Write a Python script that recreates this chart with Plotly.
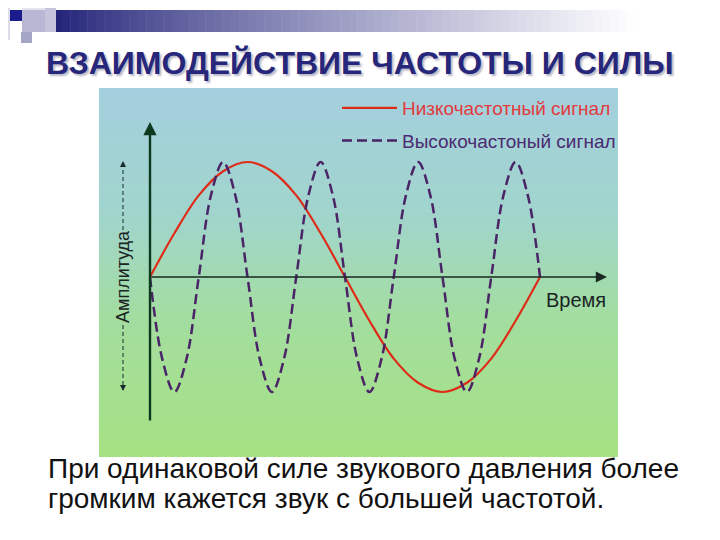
import plotly.graph_objects as go

# ---------------- data ----------------
# low-frequency signal: one period over the time span
low_time = [0, 0.0625, 0.125, 0.1875, 0.25, 0.3125, 0.375, 0.4375, 0.5,
            0.5625, 0.625, 0.6875, 0.75, 0.8125, 0.875, 0.9375, 1.0]
low_amp = [0, 0.38, 0.71, 0.92, 1.0, 0.92, 0.71, 0.38, 0,
           -0.38, -0.71, -0.92, -1.0, -0.92, -0.71, -0.38, 0]

# high-frequency signal: four periods, starting downward
high_time = [0, 0.03125, 0.0625, 0.09375, 0.125, 0.15625, 0.1875, 0.21875,
             0.25, 0.28125, 0.3125, 0.34375, 0.375, 0.40625, 0.4375, 0.46875,
             0.5, 0.53125, 0.5625, 0.59375, 0.625, 0.65625, 0.6875, 0.71875,
             0.75, 0.78125, 0.8125, 0.84375, 0.875, 0.90625, 0.9375, 0.96875, 1.0]
high_amp = [0, -0.71, -1, -0.71, 0, 0.71, 1, 0.71,
            0, -0.71, -1, -0.71, 0, 0.71, 1, 0.71,
            0, -0.71, -1, -0.71, 0, 0.71, 1, 0.71,
            0, -0.71, -1, -0.71, 0, 0.71, 1, 0.71, 0]

low_name = "Низкочастотный сигнал"
high_name = "Высокочастоный сигнал"
title_text = "ВЗАИМОДЕЙСТВИЕ ЧАСТОТЫ И СИЛЫ"
x_label = "Время"
y_label = "Амплитуда"
caption_lines = ["При одинаковой силе звукового давления более",
                 "громким кажется звук с большей частотой."]

# ---------------- layout geometry (window pixels) ----------------
OFF = 8                                    # default page body margin
WIN_W, WIN_H = 720, 540
W, H = WIN_W - OFF, WIN_H - OFF
PL, PR, PT, PB = 99, 618, 88, 457          # panel box
X0_PX, PX_PER_T = 150, 390                 # t=0 position, px per unit time
Y0_PX, PX_PER_A = 277, 115                 # zero amplitude position, px per unit


def t_of(px):
    return (px - X0_PX) / PX_PER_T


def a_of(py):
    return (Y0_PX - py) / PX_PER_A


def xp(px):
    return (px - PL) / (PR - PL)


def yp(py):
    return (PB - py) / (PB - PT)


RED = "#de2c18"
PURPLE = "#4a2466"
FONT = "Liberation Sans, Arial, sans-serif"

fig = go.Figure()
fig.add_trace(go.Scatter(
    x=low_time, y=low_amp, mode="lines", line_shape="spline",
    line=dict(color=RED, width=2.2),
    name=f"<span style='color:#e23a40'>{low_name}</span>",
    legendgroup="a"))
fig.add_trace(go.Scatter(
    x=high_time, y=high_amp, mode="lines", line_shape="spline",
    line=dict(color=PURPLE, width=2.5, dash="10px,5px"),
    name=f"<span style='color:#4a2a70'>{high_name}</span>",
    legendgroup="b"))

shapes = []
# panel gradient background (blue top -> green bottom)
stops = [(0.0, (164, 207, 222)), (0.35, (161, 213, 204)),
         (0.62, (163, 221, 160)), (1.0, (166, 226, 131))]


def grad(f):
    for (f0, c0), (f1, c1) in zip(stops[:-1], stops[1:]):
        if f0 <= f <= f1:
            u = (f - f0) / (f1 - f0)
            return tuple(round(c0[i] + (c1[i] - c0[i]) * u) for i in range(3))
    return stops[-1][1]


NB = 92
for i in range(NB):
    y_top = 1 - i / NB
    y_bot = 1 - (i + 1) / NB
    c = grad((i + 0.5) / NB)
    shapes.append(dict(type="rect", xref="paper", yref="paper", layer="below",
                       x0=0, x1=1, y0=max(0, y_bot - 0.002), y1=y_top,
                       fillcolor=f"rgb{c}", line_width=0))

# decorative header bar (navy -> white)
BAR_L, BAR_R, BAR_T, BAR_B = 45, 720, 10, 32
NBAR = 80
for i in range(NBAR):
    f = i / NBAR
    x0 = BAR_L + (BAR_R - BAR_L) * f
    x1 = BAR_L + (BAR_R - BAR_L) * (i + 1) / NBAR + 0.5
    g = min(1.0, f * 1.15) ** 0.8
    c0 = (28, 28, 118)
    c = tuple(round(c0[k] + (255 - c0[k]) * g) for k in range(3))
    shapes.append(dict(type="rect", xref="paper", yref="paper", layer="above",
                       x0=xp(x0), x1=xp(x1), y0=yp(BAR_B), y1=yp(BAR_T),
                       fillcolor=f"rgb{c}", line_width=0))

for (x0, y0, x1, y1, col) in [(8, 0, 10, 40, "#dcdcea"),
                              (22, 8, 45, 10, "#e4e4f0"),
                              (45, 8, 56, 32, "#c4c4dc"),
                              (22, 10, 45, 32, "#b8b8d4"),
                              (10, 10, 22, 21, "#1c1c8c"),
                              (21, 32, 32, 43, "#a4a4c4")]:
    shapes.append(dict(type="rect", xref="paper", yref="paper", layer="above",
                       x0=xp(x0), x1=xp(x1), y0=yp(y1), y1=yp(y0),
                       fillcolor=col, line_width=0))

# amplitude dashed indicator lines
tA = t_of(123)
for (ya, yb) in [(163, 230), (325, 389)]:
    shapes.append(dict(type="line", xref="x", yref="y", x0=tA, x1=tA,
                       y0=a_of(ya), y1=a_of(yb),
                       line=dict(color="#1a2a2a", width=1, dash="4px,3px")))

annotations = []
# vertical axis with arrow
annotations.append(dict(x=0, y=a_of(122), ax=0, ay=a_of(422), xref="x", yref="y",
                        axref="x", ayref="y", text="", showarrow=True,
                        arrowhead=2, arrowsize=1.1, arrowwidth=2.4,
                        arrowcolor="#0c3a1e"))
# horizontal axis with arrow
annotations.append(dict(x=t_of(607), y=0, ax=0, ay=0, xref="x", yref="y",
                        axref="x", ayref="y", text="", showarrow=True,
                        arrowhead=2, arrowsize=1.6, arrowwidth=1.4,
                        arrowcolor="#1a2a22"))
# amplitude arrowheads
annotations.append(dict(x=tA, y=a_of(161), ax=0, ay=6, xref="x", yref="y",
                        text="", showarrow=True, arrowhead=2, arrowsize=1.2,
                        arrowwidth=1, arrowcolor="#1a2a2a"))
annotations.append(dict(x=tA, y=a_of(391), ax=0, ay=-6, xref="x", yref="y",
                        text="", showarrow=True, arrowhead=2, arrowsize=1.2,
                        arrowwidth=1, arrowcolor="#1a2a2a"))
# axis labels
annotations.append(dict(x=tA, y=a_of(277), xref="x", yref="y", text=y_label,
                        showarrow=False, textangle=-90,
                        xanchor="center", yanchor="middle",
                        font=dict(family=FONT, size=18, color="#1a2424")))
annotations.append(dict(x=t_of(608), y=a_of(300), xref="x", yref="y", text=x_label,
                        showarrow=False, xanchor="right", yanchor="middle",
                        font=dict(family=FONT, size=20, color="#1a2424")))
# title
annotations.append(dict(x=xp(360), y=yp(63), xref="paper", yref="paper",
                        text=f"<b>{title_text}</b>", showarrow=False,
                        xanchor="center", yanchor="middle",
                        font=dict(family=FONT, size=32, color="#26267a",
                                  shadow="2px 2px 2px #b8b8c8")))
# caption
for i, line in enumerate(caption_lines):
    annotations.append(dict(x=xp(46), y=yp(468 + 30 * i), xref="paper", yref="paper",
                            text=line, showarrow=False,
                            xanchor="left", yanchor="middle",
                            font=dict(family=FONT, size=28, color="#111111")))

fig.update_layout(
    width=W, height=H,
    margin=dict(l=PL - OFF, r=WIN_W - PR, t=PT - OFF, b=WIN_H - PB, pad=0),
    paper_bgcolor="white", plot_bgcolor="rgba(0,0,0,0)",
    xaxis=dict(range=[t_of(PL), t_of(PR)], visible=False, fixedrange=True),
    yaxis=dict(range=[a_of(PB), a_of(PT)], visible=False, fixedrange=True),
    shapes=shapes, annotations=annotations,
    showlegend=True,
    legend=dict(x=xp(337), y=yp(89), xanchor="left", yanchor="top",
                bgcolor="rgba(0,0,0,0)", font=dict(family=FONT, size=19),
                itemwidth=55, tracegroupgap=5),
)

fig.write_html("out.html")
